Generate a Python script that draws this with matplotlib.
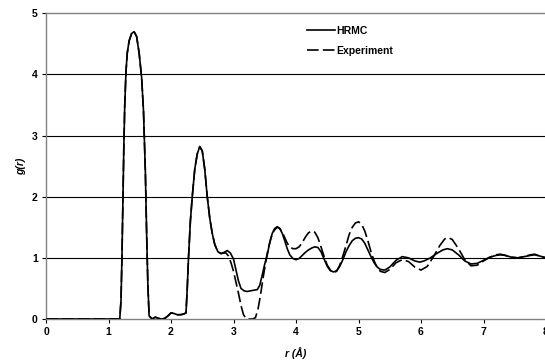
import matplotlib
matplotlib.use("Agg")
import matplotlib.pyplot as plt

plt.rcParams['font.family'] = ['Liberation Sans', 'DejaVu Sans']
plt.rcParams['font.weight'] = 'bold'

# HRMC g(r)
r_hrmc = [0, 1.18, 1.2, 1.215, 1.23, 1.245, 1.26, 1.28, 1.3, 1.33, 1.37, 1.41, 1.45, 1.49,
          1.53, 1.56, 1.59, 1.61, 1.63, 1.65, 1.7, 1.75, 1.8, 1.85, 1.9, 1.95, 2.0,
          2.05, 2.1, 2.15, 2.2, 2.24, 2.26, 2.28, 2.31, 2.34, 2.38, 2.42, 2.46, 2.5,
          2.54, 2.58, 2.62, 2.66, 2.7, 2.75, 2.8, 2.85, 2.9, 2.95, 3.0, 3.04, 3.08,
          3.12, 3.17, 3.22, 3.27, 3.32, 3.38, 3.42, 3.46, 3.5, 3.54, 3.58, 3.62, 3.66,
          3.7, 3.74, 3.78, 3.82, 3.86, 3.9, 3.95, 4.0, 4.05, 4.1, 4.15, 4.2, 4.25,
          4.3, 4.35, 4.4, 4.45, 4.5, 4.55, 4.6, 4.65, 4.7, 4.75, 4.8, 4.85, 4.9,
          4.95, 5.0, 5.05, 5.1, 5.15, 5.2, 5.25, 5.3, 5.35, 5.42, 5.5, 5.6, 5.7,
          5.8, 5.9, 5.98, 6.05, 6.15, 6.25, 6.35, 6.42, 6.5, 6.6, 6.7, 6.8, 6.9,
          7.0, 7.1, 7.2, 7.27, 7.35, 7.45, 7.55, 7.65, 7.75, 7.82, 7.9, 8.0]
g_hrmc = [0, 0, 0.3, 1.0, 1.9, 2.8, 3.5, 4.05, 4.35, 4.55, 4.67, 4.7, 4.62, 4.35,
          3.95, 3.4, 2.4, 1.4, 0.55, 0.05, 0.0, 0.03, 0.01, 0.0, 0.01, 0.05, 0.1,
          0.09, 0.07, 0.07, 0.08, 0.1, 0.5, 1.0, 1.6, 2.0, 2.45, 2.7, 2.82, 2.75,
          2.45, 2.0, 1.65, 1.4, 1.22, 1.1, 1.07, 1.09, 1.12, 1.08, 0.98, 0.8, 0.62,
          0.5, 0.46, 0.45, 0.46, 0.47, 0.48, 0.55, 0.72, 0.9, 1.05, 1.25, 1.4, 1.48,
          1.51, 1.48, 1.4, 1.28, 1.15, 1.05, 0.99, 0.97, 0.99, 1.04, 1.09, 1.13, 1.16,
          1.18, 1.17, 1.1, 0.98, 0.86, 0.79, 0.77, 0.79, 0.86, 0.97, 1.1, 1.2, 1.28,
          1.32, 1.33, 1.31, 1.24, 1.13, 1.02, 0.92, 0.85, 0.81, 0.8, 0.85, 0.96, 1.02,
          1.0, 0.95, 0.93, 0.95, 1.0, 1.07, 1.13, 1.15, 1.13, 1.05, 0.95, 0.9, 0.91,
          0.96, 1.01, 1.04, 1.05, 1.04, 1.01, 1.0, 1.02, 1.04, 1.05, 1.03, 1.0]

# Experiment g(r)
r_exp = [0, 1.18, 1.2, 1.215, 1.23, 1.245, 1.26, 1.28, 1.3, 1.33, 1.37, 1.41, 1.45, 1.49,
         1.53, 1.56, 1.59, 1.61, 1.63, 1.65, 1.7, 1.75, 1.8, 1.85, 1.9, 1.95, 2.0,
         2.05, 2.1, 2.15, 2.2, 2.24, 2.26, 2.28, 2.31, 2.34, 2.38, 2.42, 2.46, 2.5,
         2.54, 2.58, 2.62, 2.66, 2.7, 2.75, 2.8, 2.85, 2.88, 2.92, 2.96, 3.0, 3.04,
         3.08, 3.12, 3.16, 3.2, 3.25, 3.3, 3.35, 3.39, 3.43, 3.47, 3.51, 3.55, 3.6,
         3.65, 3.7, 3.74, 3.78, 3.82, 3.86, 3.9, 3.95, 4.0, 4.05, 4.1, 4.15, 4.2,
         4.25, 4.3, 4.35, 4.4, 4.45, 4.5, 4.55, 4.6, 4.65, 4.7, 4.75, 4.8, 4.85,
         4.9, 4.95, 5.0, 5.05, 5.1, 5.15, 5.2, 5.25, 5.3, 5.35, 5.42, 5.5, 5.6,
         5.7, 5.8, 5.9, 6.0, 6.1, 6.2, 6.3, 6.38, 6.44, 6.5, 6.6, 6.7, 6.8, 6.9,
         7.0, 7.1, 7.2, 7.27, 7.35, 7.45, 7.55, 7.65, 7.75, 7.82, 7.9, 8.0]
g_exp = [0, 0, 0.3, 1.0, 1.9, 2.8, 3.5, 4.05, 4.35, 4.55, 4.67, 4.7, 4.62, 4.35,
         3.95, 3.4, 2.4, 1.4, 0.55, 0.05, 0.0, 0.03, 0.01, 0.0, 0.01, 0.05, 0.1,
         0.09, 0.07, 0.07, 0.08, 0.1, 0.5, 1.0, 1.6, 2.0, 2.45, 2.7, 2.82, 2.75,
         2.45, 2.0, 1.65, 1.4, 1.22, 1.1, 1.07, 1.08, 1.08, 1.03, 0.92, 0.78, 0.6,
         0.42, 0.22, 0.07, 0.01, 0.0, 0.0, 0.02, 0.15, 0.38, 0.65, 0.9, 1.12, 1.33,
         1.45, 1.5, 1.48, 1.42, 1.33, 1.24, 1.18, 1.15, 1.15, 1.18, 1.25, 1.34, 1.41,
         1.44, 1.42, 1.33, 1.18, 1.02, 0.88, 0.8, 0.76, 0.78, 0.88, 1.03, 1.2, 1.38,
         1.5, 1.57, 1.59, 1.55, 1.44, 1.28, 1.1, 0.95, 0.84, 0.78, 0.76, 0.81, 0.92,
         0.97, 0.94, 0.85, 0.8, 0.86, 1.02, 1.2, 1.31, 1.33, 1.3, 1.15, 0.97, 0.87, 0.88,
         0.95, 1.01, 1.05, 1.06, 1.04, 1.01, 1.0, 1.02, 1.05, 1.06, 1.03, 1.0]

x_ticks = [0, 1, 2, 3, 4, 5, 6, 7, 8]
y_ticks = [0, 1, 2, 3, 4, 5]

fig = plt.figure(figsize=(5.45, 3.64), dpi=100)
ax = fig.add_axes([46 / 545, 1 - 319 / 364, 500 / 545, 305.7 / 364])

# horizontal grid lines like the spreadsheet chart
for y in y_ticks[1:-1]:
    ax.axhline(y, color='black', lw=0.8, zorder=1)

ax.plot(r_hrmc, g_hrmc, color='black', lw=1.2, label='HRMC', zorder=3)
ax.plot(r_exp, g_exp, color='black', lw=1.2, dashes=(7, 2.5), label='Experiment', zorder=2)

ax.set_xlim(0, 8)
ax.set_ylim(0, 5)
ax.set_xticks(x_ticks)
ax.set_yticks(y_ticks)
ax.tick_params(axis='both', direction='out', length=3, width=0.8, labelsize=7.5, pad=3)
for lab in ax.get_xticklabels() + ax.get_yticklabels():
    lab.set_fontweight('bold')

for s in ['left', 'bottom', 'top']:
    ax.spines[s].set_color('#808080')
    ax.spines[s].set_linewidth(1.0)
ax.spines['right'].set_visible(False)

ax.set_xlabel('r (Å)', fontsize=7.5, fontweight='bold', style='italic', labelpad=7)
ax.set_ylabel('g(r)', fontsize=7.5, fontweight='bold', style='italic', labelpad=4)

leg = ax.legend(loc='upper left', bbox_to_anchor=(0.522, 0.96), frameon=False,
                handlelength=2.7, handletextpad=0.15, labelspacing=1.0,
                borderpad=0, borderaxespad=0, prop={'weight': 'bold', 'size': 7.5})

fig.savefig('out.png', dpi=100)
